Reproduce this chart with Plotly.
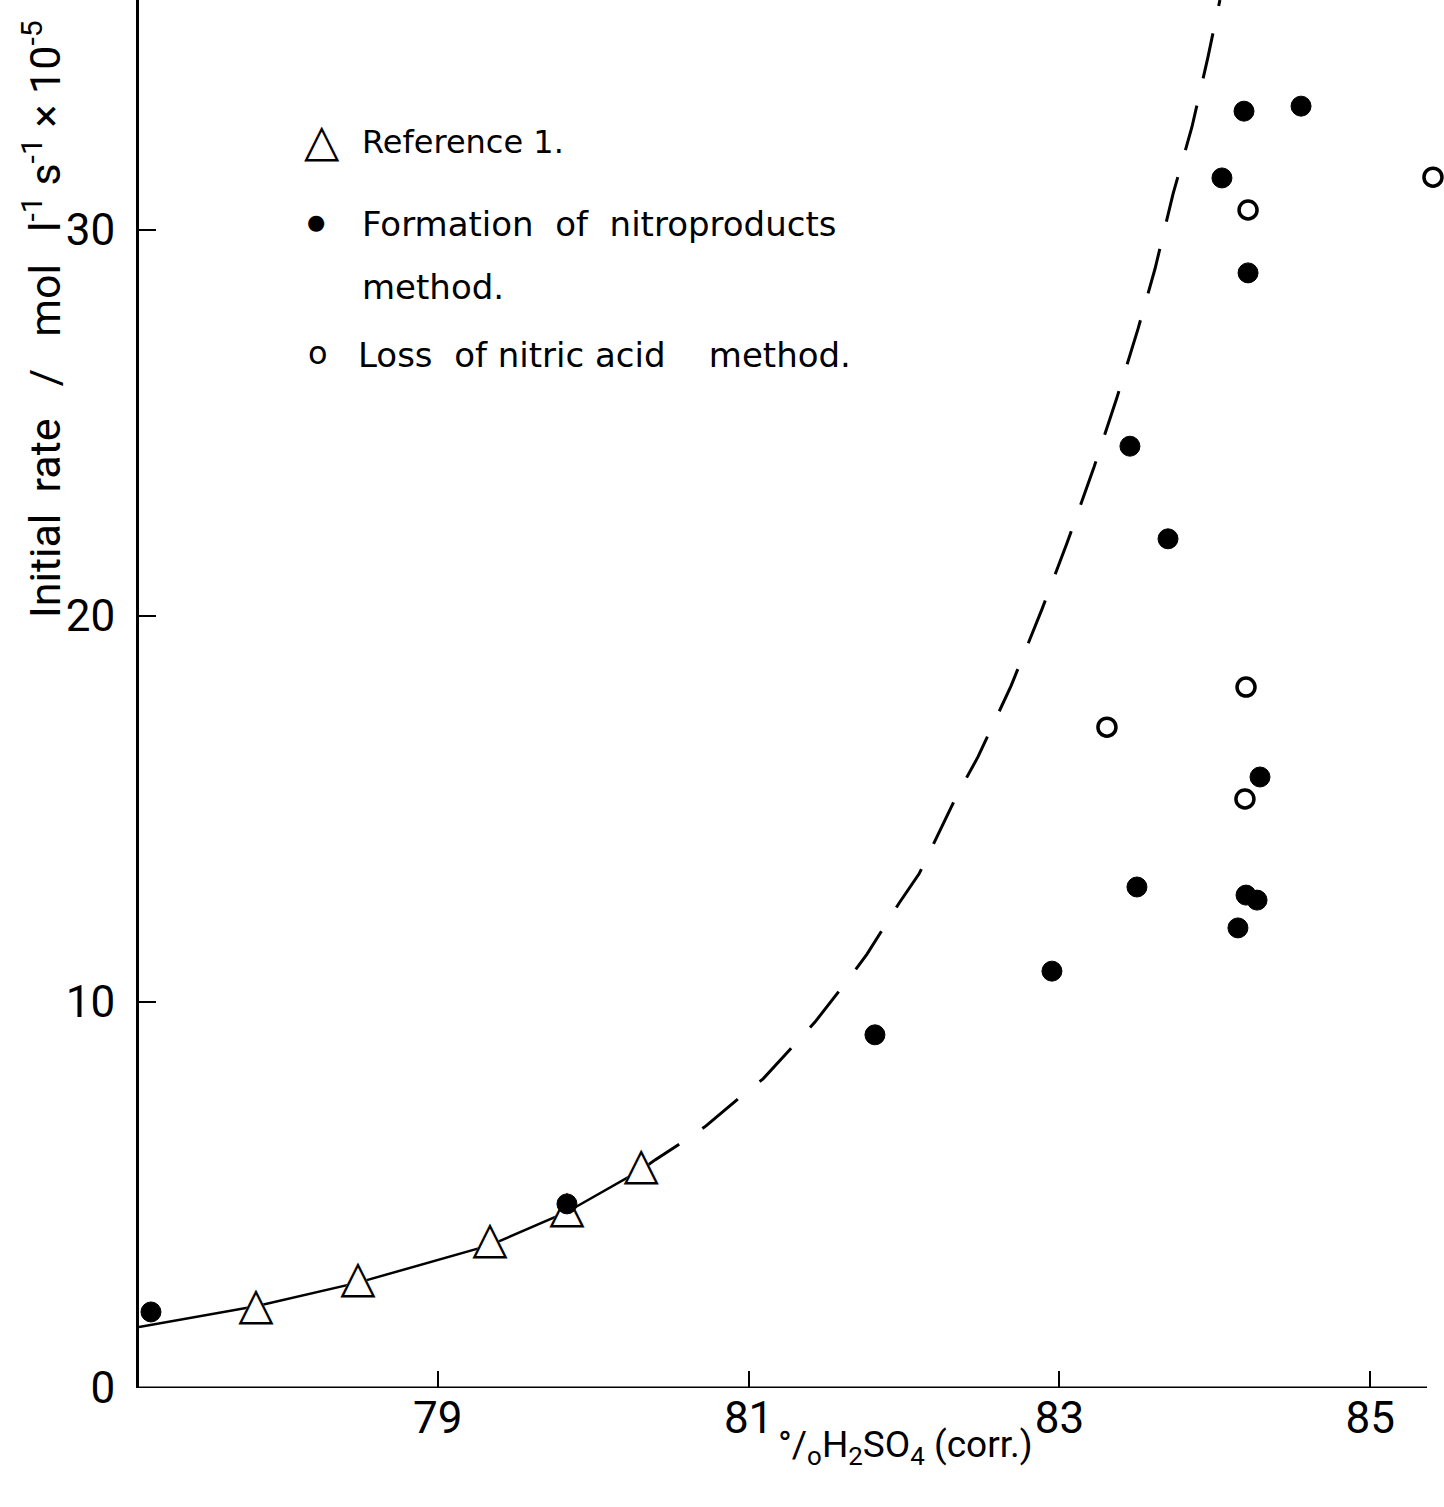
import plotly.graph_objects as go

# ---------------- data ----------------
ref1_x = [77.830, 78.486, 79.336, 79.831, 80.308]
ref1_y = [2.08, 2.78, 3.79, 4.60, 5.71]

nitro_x = [77.154, 79.831, 81.813, 82.952, 83.454, 83.699, 83.499, 84.046,
           84.188, 84.555, 84.214, 84.291, 84.201, 84.272, 84.149]
nitro_y = [1.97, 4.77, 9.15, 10.80, 24.40, 22.00, 12.98, 31.35,
           33.08, 33.21, 28.89, 15.83, 12.77, 12.64, 11.92]

loss_x = [83.306, 84.201, 84.194, 84.214, 85.404]
loss_y = [17.12, 18.16, 15.26, 30.52, 31.37]

# hand-drawn curve: solid part through Reference 1 points, dashed extrapolation
solid_x = [77.077, 77.830, 78.486, 79.336, 79.831, 80.308]
solid_y = [1.58, 2.12, 2.73, 3.70, 4.56, 5.65]

dash_x = [80.308, 80.398, 80.623, 80.726, 80.977, 81.093, 81.305, 81.427, 81.672,
          81.762, 81.968, 82.097, 82.341, 82.476, 82.689, 82.888, 83.049, 83.223,
          83.371, 83.506, 83.615, 83.731, 83.853, 83.956, 84.033]
dash_y = [5.65, 5.91, 6.50, 6.79, 7.64, 8.01, 8.94, 9.48, 10.75,
          11.24, 12.56, 13.32, 15.36, 16.35, 18.19, 20.18, 21.89, 23.86,
          25.67, 27.44, 28.99, 30.93, 32.67, 34.48, 35.96]

x_ticks = [79, 81, 83, 85]
y_ticks = [0, 10, 20, 30]

x_range = [77.077, 85.475]
x_axis_end = 85.366
y_range = [0, 35.96]

# ---------------- styling ----------------
COND = "Roboto, DejaVu Sans, sans-serif"
LEG = "DejaVu Sans, Verdana, sans-serif"

fig = go.Figure()

fig.add_trace(go.Scatter(x=solid_x, y=solid_y, mode="lines",
                         line=dict(color="black", width=2.5), showlegend=False,
                         cliponaxis=False, hoverinfo="skip"))
fig.add_trace(go.Scatter(x=dash_x, y=dash_y, mode="lines",
                         line=dict(color="black", width=3, dash="46px,28px"),
                         showlegend=False, hoverinfo="skip"))
# Reference 1 triangles: white-filled body hides the line, outline drawn on top
fig.add_trace(go.Scatter(x=ref1_x, y=ref1_y, mode="text", text=["▲"] * len(ref1_x),
                         textposition="middle center",
                         textfont=dict(size=46, family=LEG, color="white"),
                         showlegend=False, cliponaxis=False, hoverinfo="skip"))
fig.add_trace(go.Scatter(x=ref1_x, y=ref1_y, mode="text", text=["△"] * len(ref1_x),
                         textposition="middle center", name="Reference 1.",
                         textfont=dict(size=46, family=LEG, color="black", weight="bold"),
                         showlegend=False, cliponaxis=False))
fig.add_trace(go.Scatter(x=nitro_x, y=nitro_y, mode="markers",
                         name="Formation of nitroproducts method.",
                         marker=dict(symbol="circle", size=20, color="black",
                                     line=dict(color="black", width=1)),
                         showlegend=False, cliponaxis=False))
fig.add_trace(go.Scatter(x=loss_x, y=loss_y, mode="markers",
                         name="Loss of nitric acid method.",
                         marker=dict(symbol="circle", size=18, color="white",
                                     line=dict(color="black", width=3.5)),
                         showlegend=False, cliponaxis=False))

W, H = 1444, 1507
ML, MR, MT, MB = 139, 0, 0, 119
PW, PH = W - ML - MR, H - MT - MB


def px(xp):
    return (xp - ML) / PW


def py(yp):
    return (H - MB - yp) / PH


NB = "\u00a0"
annotations = [
    # legend
    dict(x=px(322), y=py(140), text="△", font=dict(size=46, family=LEG, color="black", weight="bold"),
         xanchor="center", yanchor="middle"),
    dict(x=px(360), y=py(142), text="Reference 1.", font=dict(size=32, family=LEG, color="black"),
         xanchor="left", yanchor="middle"),
    dict(x=px(316), y=py(222), text="●", font=dict(size=21, family=LEG, color="black"),
         xanchor="center", yanchor="middle"),
    dict(x=px(360), y=py(224), text="Formation" + NB * 2 + "of" + NB * 2 + "nitroproducts",
         font=dict(size=34, family=LEG, color="black"), xanchor="left", yanchor="middle"),
    dict(x=px(360), y=py(287), text="method.", font=dict(size=34, family=LEG, color="black"),
         xanchor="left", yanchor="middle"),
    dict(x=px(318), y=py(353), text="o", font=dict(size=32, family=LEG, color="black"),
         xanchor="center", yanchor="middle"),
    dict(x=px(356), y=py(355),
         text="Loss" + NB * 2 + "of" + NB + "nitric" + NB + "acid" + NB * 4 + "method.",
         font=dict(size=34, family=LEG, color="black"), xanchor="left", yanchor="middle"),
    # axis titles
    dict(x=px(905), y=py(1447), text="°/<sub>o</sub>H<sub>2</sub>SO<sub>4</sub> (corr.)",
         font=dict(size=37, family=COND, color="black"), xanchor="center", yanchor="middle"),
    dict(x=px(42), y=py(620),
         text="Initial" + NB * 2 + "rate" + NB * 3 + "/" + NB * 3 + "mol" + NB * 3
              + "l<sup>-1</sup>" + NB + "s<sup>-1</sup>" + NB + "×" + NB + "10<sup>-5</sup>",
         textangle=-90, font=dict(size=43, family=COND, color="black"),
         xanchor="center", yanchor="bottom"),
]
for a in annotations:
    a.update(xref="paper", yref="paper", showarrow=False)

fig.update_layout(
    width=W, height=H,
    margin=dict(l=ML, r=MR, t=MT, b=MB, pad=0),
    paper_bgcolor="white", plot_bgcolor="white",
    showlegend=False,
    annotations=annotations,
    shapes=[dict(type="line", xref="x", yref="y", x0=x_range[0], x1=x_axis_end,
                 y0=0, y1=0, line=dict(color="black", width=3))],
    xaxis=dict(range=x_range, tickmode="array", tickvals=x_ticks,
               ticktext=[str(v) for v in x_ticks],
               ticks="inside", ticklen=17, tickwidth=2, tickcolor="black",
               showline=False, showgrid=False, zeroline=False,
               tickfont=dict(size=44, family=COND, color="black"),
               ticklabelstandoff=0),
    yaxis=dict(range=y_range, tickmode="array", tickvals=y_ticks,
               ticktext=[str(v) for v in y_ticks],
               ticks="inside", ticklen=17, tickwidth=2, tickcolor="black",
               showline=True, linecolor="black", linewidth=3,
               showgrid=False, zeroline=False,
               tickfont=dict(size=44, family=COND, color="black"),
               ticklabelstandoff=12),
)

fig.write_html("out.html")
